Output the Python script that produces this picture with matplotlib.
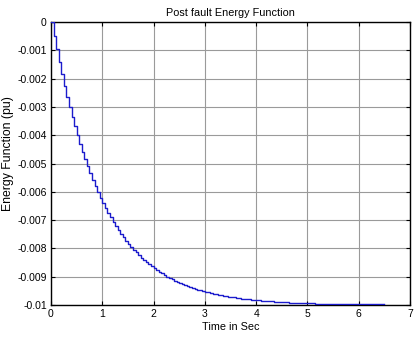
import numpy as np
import matplotlib
matplotlib.use("Agg")
import matplotlib.pyplot as plt
from matplotlib.ticker import FuncFormatter

plt.rcParams["font.family"] = ["Liberation Sans", "DejaVu Sans"]
plt.rcParams["axes.unicode_minus"] = False

t_step = 0.05
energy = [
    0.0, -0.000497, -0.000970, -0.001419, -0.001846, -0.002251, -0.002637,
    -0.003003, -0.003351, -0.003682, -0.003996, -0.004295, -0.004578,
    -0.004848, -0.005104, -0.005348, -0.005579, -0.005799, -0.006008,
    -0.006206, -0.006395, -0.006575, -0.006745, -0.006907, -0.007061,
    -0.007207, -0.007346, -0.007478, -0.007603, -0.007722, -0.007836,
    -0.007944, -0.008046, -0.008143, -0.008235, -0.008323, -0.008406,
    -0.008486, -0.008561, -0.008633, -0.008701, -0.008765, -0.008827,
    -0.008885, -0.008941, -0.008993, -0.009043, -0.009091, -0.009136,
    -0.009179, -0.009220, -0.009259, -0.009296, -0.009331, -0.009364,
    -0.009396, -0.009426, -0.009454, -0.009481, -0.009507, -0.009532,
    -0.009555, -0.009577, -0.009598, -0.009618, -0.009637, -0.009655,
    -0.009672, -0.009689, -0.009704, -0.009719, -0.009733, -0.009746,
    -0.009759, -0.009771, -0.009782, -0.009793, -0.009803, -0.009813,
    -0.009822, -0.009831, -0.009839, -0.009847, -0.009855, -0.009862,
    -0.009869, -0.009875, -0.009882, -0.009888, -0.009893, -0.009899,
    -0.009904, -0.009909, -0.009913, -0.009917, -0.009921, -0.009925,
    -0.009929, -0.009933, -0.009936, -0.009939, -0.009942, -0.009945,
    -0.009948, -0.009950, -0.009950, -0.009950, -0.009950, -0.009951,
    -0.009951, -0.009951, -0.009951, -0.009952, -0.009952, -0.009952,
    -0.009952, -0.009952, -0.009955, -0.009955, -0.009955, -0.009955,
    -0.009955, -0.009955, -0.009955, -0.009955, -0.009955, -0.009955,
    -0.009955, -0.009955, -0.009955, -0.009955,
]
time = np.arange(len(energy)) * t_step

x_ticks = [0, 1, 2, 3, 4, 5, 6, 7]
y_ticks = [0, -0.001, -0.002, -0.003, -0.004, -0.005,
           -0.006, -0.007, -0.008, -0.009, -0.01]

# ── figure ───────────────────────────────────────────────────────────────────
fig = plt.figure(figsize=(4.18, 3.42), dpi=100)
ax = fig.add_axes([51 / 418, 1 - 305 / 342, 359 / 418, 283 / 342])

ax.plot(time, energy, color="#1c1ccc", lw=1.0, drawstyle="steps-post",
        zorder=3)

ax.set_xlim(0, 7)
ax.set_ylim(-0.01, 0)
ax.set_xticks(x_ticks)
ax.set_yticks(y_ticks)
ax.yaxis.set_major_formatter(FuncFormatter(lambda v, p: "%g" % v))

ax.grid(True, color="#9a9a9a", lw=0.8, ls="-")
ax.tick_params(direction="in", top=True, right=True, labelsize=7.5,
               length=3, width=0.8, pad=3)
for sp in ax.spines.values():
    sp.set_linewidth(1.0)

ax.set_title("Post fault Energy Function", fontsize=7.8, pad=4)
ax.set_xlabel("Time in Sec", fontsize=7.8, labelpad=2)
ax.set_ylabel("Energy Function (pu)", fontsize=8.8, labelpad=2)
ax.yaxis.set_label_coords(-0.103, 0.535)

fig.savefig("out.png", dpi=100)
